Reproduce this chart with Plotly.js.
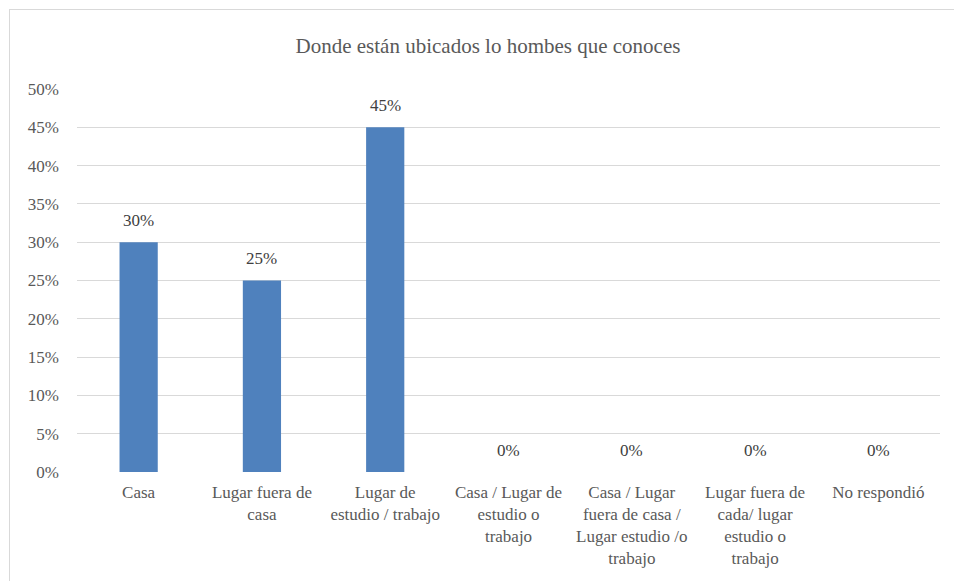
<!DOCTYPE html>
<html><head><meta charset="utf-8">
<script src="https://cdn.plot.ly/plotly-3.0.1.min.js"></script>
<style>body{margin:0;background:#fff;}#frame{position:absolute;left:9px;top:9px;width:960px;height:590px;border:1px solid #d9d9d9;pointer-events:none;}</style>
</head><body>
<div id="chart" style="width:954px;height:581px;position:absolute;left:0;top:0;"></div>
<div id="frame"></div>
<script>
const categories = [
  "Casa",
  "Lugar fuera de<br>casa",
  "Lugar de<br>estudio / trabajo",
  "Casa / Lugar de<br>estudio o<br>trabajo",
  "Casa / Lugar<br>fuera de casa /<br>Lugar estudio /o<br>trabajo",
  "Lugar fuera de<br>cada/ lugar<br>estudio o<br>trabajo",
  "No respondió"
];
const values = [0.30, 0.25, 0.45, 0, 0, 0, 0];
const labels = ["30%", "25%", "45%", "0%", "0%", "0%", "0%"];
const yTicks = [0, 0.05, 0.10, 0.15, 0.20, 0.25, 0.30, 0.35, 0.40, 0.45, 0.50];
const yTickText = ["0%", "5%", "10%", "15%", "20%", "25%", "30%", "35%", "40%", "45%", "50%"];

const font = "Times New Roman, Liberation Serif, Tinos, Times, DejaVu Serif, serif";
const trace = {
  type: "bar", x: categories, y: values,
  marker: {color: "#4f81bd"}, width: 0.31, hoverinfo: "none"
};
const annotations = categories.map((c, i) => ({
  x: c, y: values[i], xref: "x", yref: "y", text: labels[i],
  showarrow: false, yshift: 22, yanchor: "middle",
  font: {family: font, size: 17, color: "#404040"}
}));
const layout = {
  width: 954, height: 581,
  margin: {l: 77, r: 14, t: 89, b: 109},
  paper_bgcolor: "#fff", plot_bgcolor: "#fff",
  showlegend: false,
  font: {family: font},
  title: {text: "Donde están ubicados lo hombes que conoces", x: 0.5115, xref: "container", y: 0.922, yanchor: "middle",
    font: {family: font, size: 21, color: "#595959"}},
  xaxis: {type: "category", showgrid: false, zeroline: false, showline: false, ticks: "", ticklabelstandoff: 8,
    tickfont: {family: font, size: 17, color: "#595959"}},
  yaxis: {range: [0, 0.5], tickvals: yTicks, ticktext: yTickText, showgrid: true, gridcolor: "#d9d9d9", gridwidth: 1,
    zeroline: false, showline: false, ticks: "", ticklabelstandoff: 17,
    tickfont: {family: font, size: 17, color: "#595959"}},
  annotations: annotations
};
Plotly.newPlot("chart", [trace], layout, {displayModeBar: false, staticPlot: true});
</script>
</body></html>
